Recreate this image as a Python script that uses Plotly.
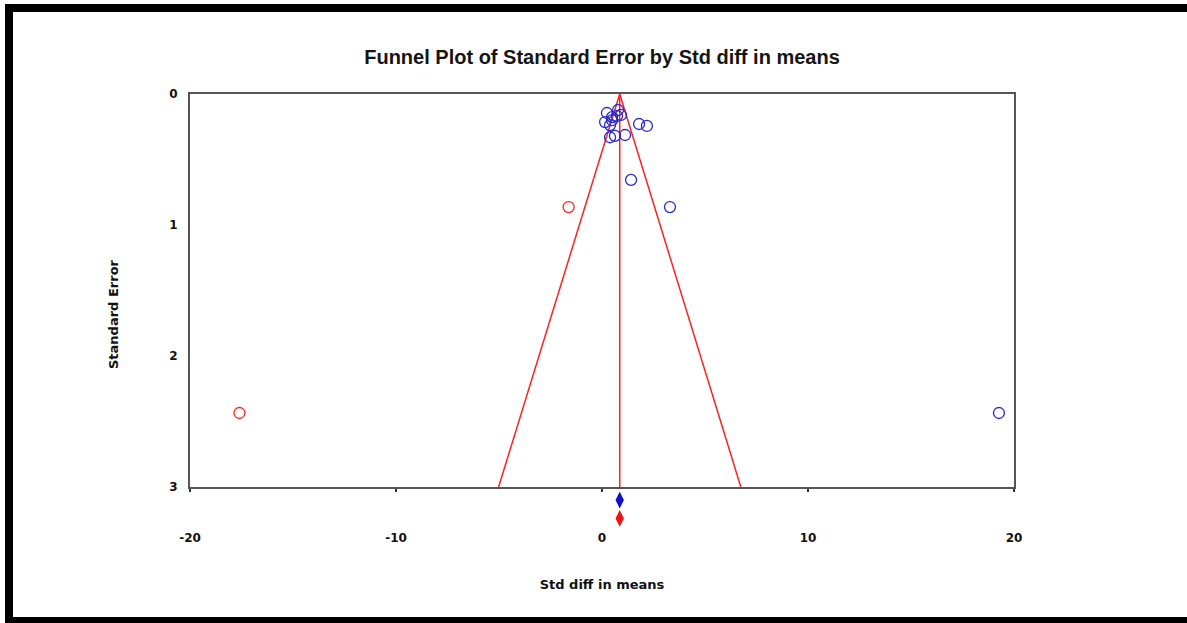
import plotly.graph_objects as go

# Observed studies: standardized mean difference and its standard error
obs_smd = [0.24, 0.49, 0.78, 0.92, 0.73, 0.15, 0.49, 0.39, 0.39, 0.63, 1.12,
           1.80, 2.18, 1.41, 3.30, 19.27]
obs_se = [0.145, 0.176, 0.122, 0.16, 0.168, 0.214, 0.20, 0.237, 0.33, 0.32,
          0.313, 0.229, 0.244, 0.656, 0.863, 2.435]

# Imputed studies (trim and fill)
imp_smd = [-1.62, -17.60]
imp_se = [0.863, 2.435]

# Summary estimates: observed and adjusted, drawn beneath the axis
summary_smd = [0.86, 0.86]
summary_pos = [3.10, 3.24]
summary_colors = ["#1010c8", "#ee1111"]

adj_mean = 0.86
se_max = 3.0
z = 1.96

x_ticks = [-20, -10, 0, 10, 20]
y_ticks = [0, 1, 2, 3]

TITLE_FONT = "Liberation Sans, Arial, sans-serif"
FONT = "DejaVu Sans, Verdana, sans-serif"
RED = "#ff2020"
BLUE = "#2a2acc"

# Pixel geometry of the plotting region
W, H = 1187, 623
L, R, T, B_MAIN, B_EXT = 190, 1014, 94, 487, 530
main_frac = (B_EXT - B_MAIN) / (B_EXT - T)
px_per_unit = (B_MAIN - T) / se_max
px_x = lambda p: (p - L) / (R - L)
px_y = lambda p: (B_EXT - p) / (B_EXT - T)

fig = go.Figure()

# Pseudo 95% confidence funnel
fig.add_trace(go.Scatter(
    x=[adj_mean - z * se_max, adj_mean, adj_mean + z * se_max],
    y=[se_max, 0, se_max],
    mode="lines", line=dict(color=RED, width=1.5), hoverinfo="skip",
))
fig.add_trace(go.Scatter(
    x=[adj_mean, adj_mean], y=[0, se_max],
    mode="lines", line=dict(color=RED, width=1.5), hoverinfo="skip",
))

fig.add_trace(go.Scatter(
    x=obs_smd, y=obs_se, mode="markers",
    marker=dict(symbol="circle-open", size=11, color=BLUE, line=dict(width=1.3)),
))
fig.add_trace(go.Scatter(
    x=imp_smd, y=imp_se, mode="markers",
    marker=dict(symbol="circle-open", size=11, color=RED, line=dict(width=1.3)),
))
fig.add_trace(go.Scatter(
    x=summary_smd, y=summary_pos, mode="markers", yaxis="y2",
    marker=dict(symbol="diamond-tall", size=12, color=summary_colors,
                line=dict(width=0)),
))

fig.update_layout(
    width=W, height=H,
    margin=dict(l=L, r=W - R, t=T, b=H - B_EXT),
    paper_bgcolor="white", plot_bgcolor="rgba(0,0,0,0)",
    showlegend=False,
    title=dict(text="<b>Funnel Plot of Standard Error by Std diff in means</b>",
               x=602 / W, xanchor="center", y=1 - 57 / H, yanchor="middle",
               font=dict(family=TITLE_FONT, size=20, color="#151515")),
    font=dict(family=FONT, color="#111"),
    xaxis=dict(
        range=[-20, 20], tickvals=x_ticks, ticktext=[str(v) for v in x_ticks],
        anchor="y",
        showgrid=False, zeroline=False,
        showline=True, mirror=True, linecolor="#555", linewidth=2,
        ticks="outside", ticklen=3, tickwidth=2, tickcolor="#333",
        ticklabelstandoff=36,
        tickfont=dict(family=FONT, size=12, color="#111", weight="bold"),
        title=dict(text="<b>Std diff in means</b>", standoff=35,
                   font=dict(family=FONT, size=13, color="#111")),
    ),
    yaxis=dict(
        domain=[main_frac, 1],
        range=[se_max, 0], tickvals=y_ticks, ticktext=[str(v) for v in y_ticks],
        showgrid=False, zeroline=False,
        showline=True, mirror=True, linecolor="#555", linewidth=2,
        ticks="", ticklabelstandoff=8,
        tickfont=dict(family=FONT, size=12, color="#111", weight="bold"),
    ),
    yaxis2=dict(domain=[0, main_frac], anchor="x", visible=False,
                range=[se_max + (B_EXT - B_MAIN) / px_per_unit, se_max]),
)

# Vertical axis title
fig.add_annotation(
    text="<b>Standard Error</b>", textangle=-90, showarrow=False,
    xref="paper", yref="paper", x=px_x(113), y=px_y(314),
    xanchor="center", yanchor="middle",
    font=dict(family=FONT, size=13, color="#111"),
)

# Outer black frame around the figure
frame = dict(type="rect", xref="paper", yref="paper", line=dict(width=0),
             fillcolor="black", layer="above")
fig.add_shape(x0=px_x(5), x1=px_x(13), y0=px_y(623), y1=px_y(4), **frame)
fig.add_shape(x0=px_x(5), x1=px_x(W), y0=px_y(12), y1=px_y(4), **frame)
fig.add_shape(x0=px_x(5), x1=px_x(W), y0=px_y(623), y1=px_y(617), **frame)

fig.write_html("out.html")
